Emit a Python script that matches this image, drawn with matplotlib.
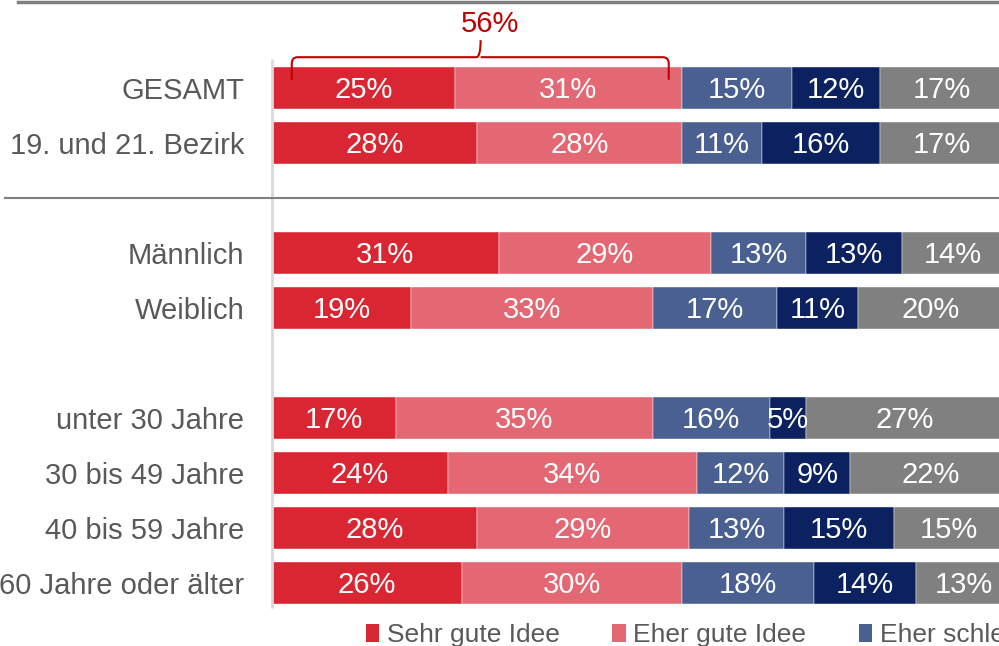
import matplotlib.pyplot as plt
from matplotlib.lines import Line2D
from matplotlib.path import Path
from matplotlib.patches import PathPatch, Patch

plt.rcParams['font.family'] = ['Liberation Sans', 'DejaVu Sans']

categories = ["GESAMT", "19. und 21. Bezirk", "Männlich", "Weiblich",
              "unter 30 Jahre", "30 bis 49 Jahre", "40 bis 59 Jahre", "60 Jahre oder älter"]
rows = [0, 1, 3, 4, 6, 7, 8, 9]

series = ["Sehr gute Idee", "Eher gute Idee", "Eher schlechte Idee",
          "Sehr schlechte Idee", "Weiß nicht / keine Angabe"]
sehr_gut = [25, 28, 31, 19, 17, 24, 28, 26]
eher_gut = [31, 28, 29, 33, 35, 34, 29, 30]
eher_schlecht = [15, 11, 13, 17, 16, 12, 13, 18]
sehr_schlecht = [12, 16, 13, 11, 5, 9, 15, 14]
weiss_nicht = [17, 17, 14, 20, 27, 22, 15, 13]
values = [sehr_gut, eher_gut, eher_schlecht, sehr_schlecht, weiss_nicht]
colors = ["#D92632", "#E46873", "#4A6090", "#0B2160", "#808080"]

bracket_label = "56%"

W, H = 999, 646
fig = plt.figure(figsize=(W / 100, H / 100), dpi=100)
# axis: x=0 at px 272, x=100 at px 1004 (runs past the right edge); rows 55 px apart, row 0 at px 88
y_top, y_bot = -1.6, 9.6
ax = fig.add_axes([272 / W, 1 - (88 + y_bot * 55) / H, 732 / W, (y_bot - y_top) * 55 / H])
ax.set_xlim(0, 100)
ax.set_ylim(y_bot, y_top)

left = [0] * len(rows)
for vals, col in zip(values, colors):
    ax.barh(rows, vals, left=left, height=0.76, color=col, edgecolor="white", linewidth=0.3)
    for r, v, l in zip(rows, vals, left):
        ax.text(l + v / 2, r + 0.04, f"{v}%", ha="center", va="center", color="white", fontsize=21)
    left = [a + b for a, b in zip(left, vals)]

ax.set_yticks(rows)
ax.set_yticklabels(categories, fontsize=21, color="#595959")
ax.tick_params(axis="y", length=0, pad=20)
ax.set_xticks([])
for s in ax.spines.values():
    s.set_visible(False)
ax.plot([0, 0], [-0.53, 9.45], color="#D9D9D9", lw=2, clip_on=False, solid_capstyle="butt")

# separator and top frame line
fig.add_artist(Line2D([5 / W, 1], [1 - 198 / H] * 2, color="#808080", lw=1.5))
fig.add_artist(Line2D([18 / W, 1], [1 - 2 / H] * 2, color="#808080", lw=2.5))

# bracket over the first two segments
x0, x1, xm = 2.7, 54.2, 28.5
yt, ye, ytip = -0.56, -0.15, -0.87
r = 0.8
verts = [(x0, ye), (x0, yt + 0.12), (x0, yt), (x0 + r, yt), (xm - 0.6, yt), (xm, yt), (xm, ytip),
         (xm, yt), (xm + 0.6, yt), (x1 - r, yt), (x1, yt), (x1, yt + 0.12), (x1, ye)]
codes = [Path.MOVETO, Path.LINETO, Path.CURVE3, Path.CURVE3, Path.LINETO, Path.CURVE3, Path.CURVE3,
         Path.MOVETO, Path.CURVE3, Path.LINETO, Path.CURVE3, Path.CURVE3, Path.LINETO]
ax.add_patch(PathPatch(Path(verts, codes), fill=False, edgecolor="#C00000", lw=1.5, clip_on=False))
ax.text(29.8, -1.17, bracket_label, ha="center", va="center", color="#C00000", fontsize=21)

handles = [Patch(facecolor=c, edgecolor="none") for c in colors]
fig.legend(handles, series, loc="center left", bbox_to_anchor=(355 / W, 1 - 635 / H), ncol=5,
           frameon=False, fontsize=19, handlelength=0.5, handleheight=0.7, handletextpad=0.3,
           columnspacing=2.0, labelcolor="#595959", borderaxespad=0)

fig.savefig("out.png", dpi=100)
